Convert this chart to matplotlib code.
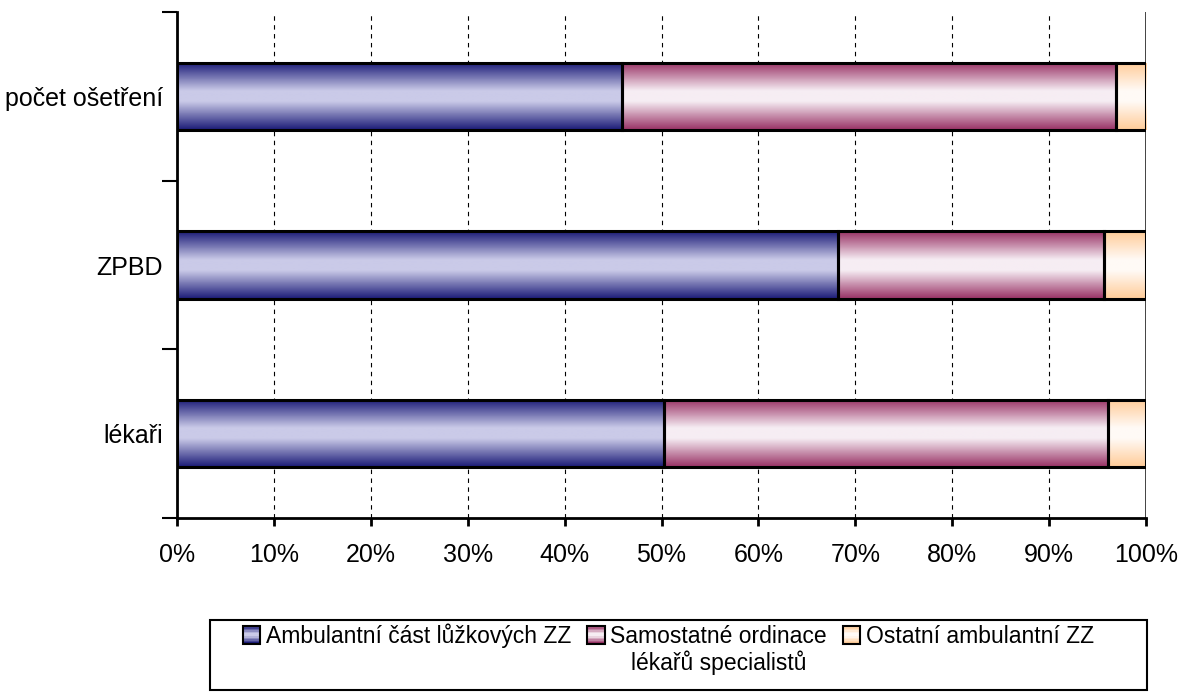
import numpy as np
import matplotlib.pyplot as plt
from matplotlib.patches import Rectangle
from matplotlib.colors import LinearSegmentedColormap
from matplotlib.legend_handler import HandlerBase

# Data (shares in %)
categories = ["lékaři", "ZPBD", "počet ošetření"]
ambulantni_lz = [50.3, 68.2, 45.9]
samostatne = [45.8, 27.5, 51.0]
ostatni = [3.9, 4.3, 3.1]
series_names = ["Ambulantní část lůžkových ZZ", "Samostatné ordinace", "Ostatní ambulantní ZZ"]
second_line = "lékařů specialistů"

# gradient colours (edge, centre)
grad_colors = [("#1c1c78", "#cacae8"), ("#993366", "#f6edf3"), ("#ffcc99", "#fffaf6")]

plt.rcParams["font.family"] = ["Liberation Sans", "DejaVu Sans"]
plt.rcParams["font.size"] = 18

fig = plt.figure(figsize=(11.78, 6.93), dpi=100)
ax = fig.add_axes([0.1503, 0.2525, 0.8225, 0.7302])


def grad_cmap(c_edge, c_mid):
    return LinearSegmentedColormap.from_list(
        "g", [(0, c_edge), (0.42, c_mid), (0.58, c_mid), (1, c_edge)])


y = np.arange(len(categories))
h = 0.4
left = np.zeros(len(categories))
for vals, (ce, cm) in zip([ambulantni_lz, samostatne, ostatni], grad_colors):
    vals = np.array(vals)
    bars = ax.barh(y, vals, left=left, height=h, facecolor="none",
                   edgecolor="black", linewidth=2.2, zorder=3)
    img = grad_cmap(ce, cm)(np.linspace(0, 1, 64))[:, None, :]
    for b in bars:
        x0, y0 = b.get_x(), b.get_y()
        im = ax.imshow(img, extent=[x0, x0 + b.get_width(), y0, y0 + b.get_height()],
                       aspect="auto", zorder=2, interpolation="bilinear")
        im.set_clip_path(b)
    left = left + vals

ax.set_xlim(0, 100)
ax.set_ylim(-0.5, len(categories) - 0.5)
ax.set_xticks(np.arange(0, 101, 10))
ax.set_xticklabels([f"{v}%" for v in range(0, 101, 10)])
ax.set_yticks(y)
ax.set_yticklabels(categories)
ax.set_yticks(np.arange(-0.5, len(categories)), minor=True)
ax.tick_params(axis="y", which="major", length=0, pad=10)
ax.tick_params(axis="y", which="minor", length=11, width=1.5)
ax.tick_params(axis="x", length=6, width=2, pad=12)
ax.xaxis.grid(True, linestyle=(0, (4, 4)), color="black", linewidth=0.8, zorder=0)
ax.axvline(100, color="#333333", linewidth=2, zorder=1)
ax.set_axisbelow(True)
for s in ["top", "right"]:
    ax.spines[s].set_visible(False)
for s in ["left", "bottom"]:
    ax.spines[s].set_linewidth(2)


class GradHandler(HandlerBase):
    def __init__(self, ce, cm):
        super().__init__()
        self.ce, self.cm = ce, cm

    def create_artists(self, legend, orig_handle, xdescent, ydescent, width, height, fontsize, trans):
        cmap = grad_cmap(self.ce, self.cm)
        n = 12
        side = height * 1.1
        x0 = width - side
        y0 = (height - side) / 2
        arts = []
        for i in range(n):
            r = Rectangle((x0, y0 + side * i / n), side, side / n, facecolor=cmap(i / (n - 1)),
                          edgecolor="none", transform=trans)
            arts.append(r)
        arts.append(Rectangle((x0, y0), side, side, facecolor="none", edgecolor="black",
                              linewidth=1.5, transform=trans))
        return arts


# legend frame
frame = Rectangle((0.178, 0.004), 0.796, 0.101, transform=fig.transFigure, facecolor="white",
                  edgecolor="black", linewidth=1.5, zorder=0)
fig.add_artist(frame)

handles = [Rectangle((0, 0), 1, 1) for _ in series_names]
leg = fig.legend(handles, series_names, loc="center", bbox_to_anchor=(0.5666, 0.083),
                 ncol=3, frameon=False, fontsize=16.5, handlelength=0.85, handletextpad=0.25,
                 columnspacing=0.6,
                 handler_map={h_: GradHandler(ce, cm) for h_, (ce, cm) in zip(handles, grad_colors)})

fig.canvas.draw()
bb = leg.get_texts()[1].get_window_extent().transformed(fig.transFigure.inverted())
fig.text((bb.x0 + bb.x1) / 2, 0.043, second_line, ha="center", va="center", fontsize=16.5)

fig.savefig("out.png", dpi=100)
